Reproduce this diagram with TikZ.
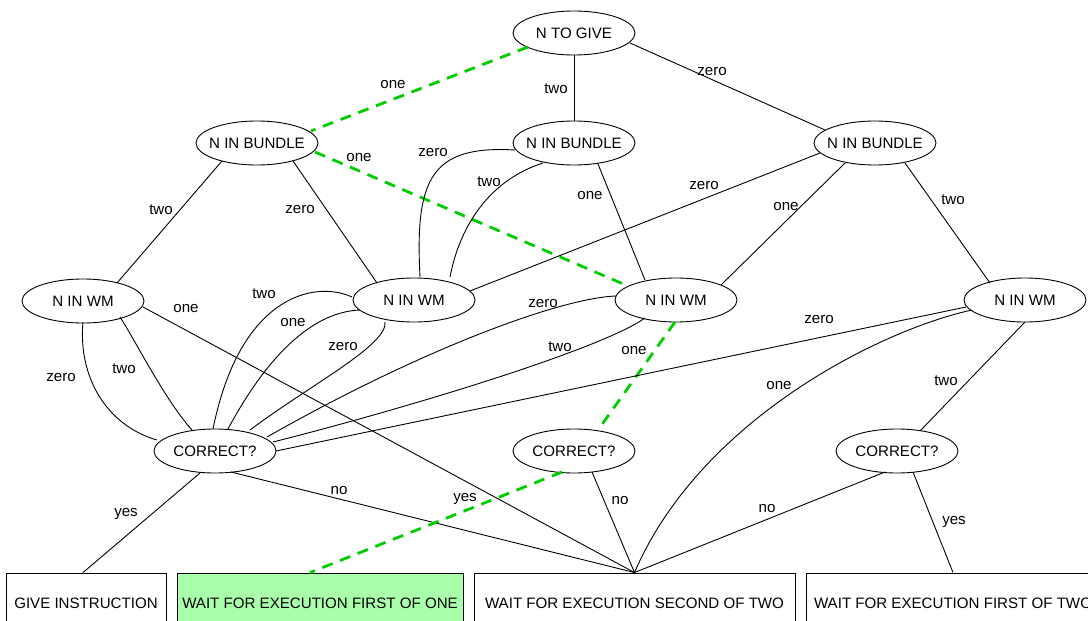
\documentclass[tikz,border=0pt]{standalone}
\usepackage{fontspec}
\setmainfont{Liberation Sans}
\usetikzlibrary{shapes.geometric,calc}
\newcommand\ctr[1]{\makebox[0pt]{\raisebox{-1.2pt}{#1}}}
\definecolor{pathgreen}{RGB}{0,204,0}
\definecolor{chosenfill}{RGB}{170,255,170}
\begin{document}
\begin{tikzpicture}[x=1pt,y=-1pt,
  every node/.style={font=\fontsize{15.1}{17}\selectfont},
  decision/.style={ellipse,draw,line width=0.9pt,inner sep=0pt,minimum width=122pt,minimum height=44pt},
  outcome/.style={rectangle,draw,line width=0.9pt,inner sep=0pt,minimum height=60pt},
  edge/.style={line width=0.9pt},
  chosen/.style={draw=pathgreen,line width=2.8pt,dash pattern=on 11pt off 8pt},
  lbl/.style={inner sep=0pt,yshift=-1.2pt}]
\useasboundingbox (0,0) rectangle (1088,621);
\clip (0,0) rectangle (1088,621);

% decision nodes
\node[decision] (give) at (574,33)  {\ctr{N TO GIVE}};
\node[decision] (b1)   at (257,143) {\ctr{N IN BUNDLE}};
\node[decision] (b2)   at (574,143) {\ctr{N IN BUNDLE}};
\node[decision] (b3)   at (875,143) {\ctr{N IN BUNDLE}};
\node[decision] (w1)   at (83,301)  {\ctr{N IN WM}};
\node[decision] (w2)   at (414,300) {\ctr{N IN WM}};
\node[decision] (w3)   at (676,300) {\ctr{N IN WM}};
\node[decision] (w4)   at (1025,300){\ctr{N IN WM}};
\node[decision] (c1)   at (215,451) {\ctr{CORRECT?}};
\node[decision] (c2)   at (574,451) {\ctr{CORRECT?}};
\node[decision] (c3)   at (897,451) {\ctr{CORRECT?}};

% outcome boxes
\node[outcome,minimum width=160pt] (box1) at (86,603)  {GIVE INSTRUCTION};
\node[outcome,minimum width=286pt,fill=chosenfill] (box2) at (320,603) {WAIT FOR EXECUTION FIRST OF ONE};
\node[outcome,minimum width=321pt] (box3) at (634.5,603) {WAIT FOR EXECUTION SECOND OF TWO};
\node[outcome,minimum width=294pt] (box4) at (953,603) {WAIT FOR EXECUTION FIRST OF TWO};

% from N TO GIVE
\draw[chosen] ($(give)+(-46,14)$) -- ($(b1)+(54,-12)$);
\draw[edge] (give) -- (b2);
\draw[edge] ($(give)+(56,10)$) -- ($(b3)+(-50,-13)$);

% from the left bundle node
\draw[edge] ($(b1)+(-35,18)$) -- ($(w1)+(34,-18)$);
\draw[edge] ($(b1)+(36,18)$) -- ($(w2)+(-37,-17)$);
\draw[chosen] ($(b1)+(58,9)$) -- ($(w3)+(-48,-14)$);

% from the middle bundle node
\draw[edge] ($(b2)+(-59,7)$) .. controls (430,145) and (415,180) .. ($(w2)+(6,-23)$);
\draw[edge] ($(b2)+(-31,20)$) .. controls (490,180) and (460,225) .. ($(w2)+(36,-23)$);
\draw[edge] ($(b2)+(24,21)$) -- ($(w3)+(-31,-20)$);

% from the right bundle node
\draw[edge] ($(b3)+(-55,10)$) -- ($(w2)+(56,-9)$);
\draw[edge] ($(b3)+(-30,20)$) -- ($(w3)+(45,-15)$);
\draw[edge] ($(b3)+(30,20)$) -- ($(w4)+(-35,-17)$);

% from the working-memory nodes
\draw[edge] ($(w1)+(0,21)$) .. controls (78,375) and (105,425) .. ($(c1)+(-58,-11)$);
\draw[edge] ($(w1)+(37,16)$) .. controls (135,340) and (165,400) .. ($(c1)+(-23,-21)$);
\draw[edge] ($(w1)+(60,6)$) -- (box3.north);

\draw[edge] ($(w2)+(-62,-3)$) .. controls (315,280) and (240,295) .. ($(c1)+(-2,-22)$);
\draw[edge] ($(w2)+(-54,10)$) .. controls (310,312) and (265,360) .. ($(c1)+(13,-22)$);
\draw[edge] ($(w2)+(-29,22)$) .. controls (388,345) and (310,385) .. ($(c1)+(35,-21)$);

\draw[edge] ($(w3)+(-60,-4)$) .. controls (560,298) and (420,350) .. ($(c1)+(52,-14)$);
\draw[edge] ($(w3)+(-31,18)$) .. controls (600,350) and (400,410) .. ($(c1)+(58,-9)$);
\draw[chosen] ($(w3)+(-1,22)$) -- ($(c2)+(24,-21)$);

\draw[edge] ($(w4)+(-59,7)$) -- ($(c1)+(61,0)$);
\draw[edge] ($(w4)+(-53,10)$) .. controls (880,330) and (700,420) .. (box3.north);
\draw[edge] ($(w4)+(0,22)$) -- ($(c3)+(23,-20)$);

% from the CORRECT? nodes
\draw[edge] ($(c1)+(-15,22)$) -- ($(box1.north)+(-3,0)$);
\draw[edge] ($(c1)+(16,21)$) -- (box3.north);
\draw[edge] ($(c2)+(18,21)$) -- (box3.north);
\draw[chosen] ($(c2)+(-12,21)$) -- ($(box2.north)+(-10,0)$);
\draw[edge] ($(c3)+(-12,21)$) -- (box3.north);
\draw[edge] ($(c3)+(16,21)$) -- (box4.north);

% edge labels
\node[lbl] (la) at (393,83)  {one};
\node[lbl] (lb) at (556,87)  {two};
\node[lbl] (lc) at (712,70)  {zero};
\node[lbl] (ld) at (161,208) {two};
\node[lbl] (le) at (300,208) {zero};
\node[lbl] (lf) at (359,156) {one};
\node[lbl] (lg) at (433,151) {zero};
\node[lbl] (lh) at (489,180) {two};
\node[lbl] (li) at (590,194) {one};
\node[lbl] (lj) at (704,184) {zero};
\node[lbl] (lk) at (786,205) {one};
\node[lbl] (ll) at (953,198) {two};
\node[lbl] (lm) at (61,376)  {zero};
\node[lbl] (ln) at (124,367) {two};
\node[lbl] (lo) at (186,307) {one};
\node[lbl] (lp) at (264,292) {two};
\node[lbl] (lq) at (293,321) {one};
\node[lbl] (lr) at (343,345) {zero};
\node[lbl] (ls) at (543,302) {zero};
\node[lbl] (lt) at (560,345) {two};
\node[lbl] (lu) at (634,349) {one};
\node[lbl] (lv) at (819,318) {zero};
\node[lbl] (lw) at (779,384) {one};
\node[lbl] (lx) at (946,379) {two};
\node[lbl] (ly) at (126,513) {yes};
\node[lbl] (lz) at (339,489) {no};
\node[lbl] (lA) at (620,499) {no};
\node[lbl] (lB) at (465,498) {yes};
\node[lbl] (lC) at (767,507) {no};
\node[lbl] (lD) at (954,521) {yes};
\end{tikzpicture}
\end{document}
